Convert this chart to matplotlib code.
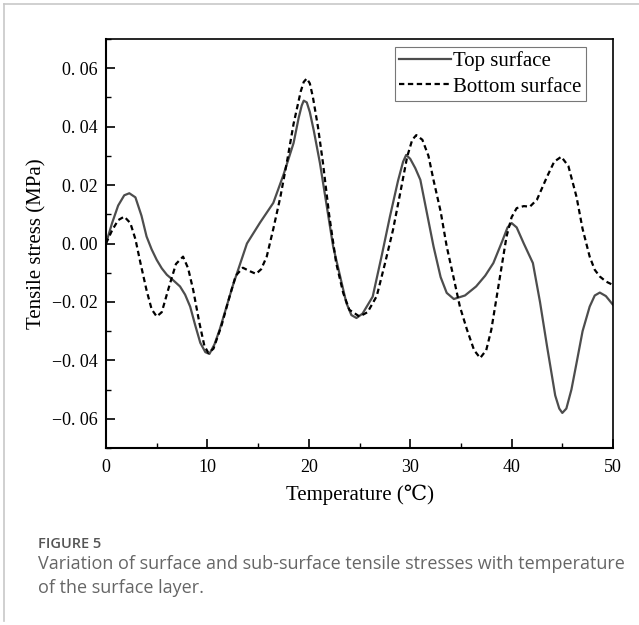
import matplotlib
matplotlib.use("Agg")
import matplotlib.pyplot as plt
from matplotlib.lines import Line2D
from matplotlib.ticker import MultipleLocator, FixedLocator

# ---- data ----
top_T = [0, 0.6, 1.2, 1.8, 2.3, 2.9, 3.5, 4.0, 4.5, 5.0, 5.5, 6.0, 6.7, 7.3, 7.8, 8.3, 8.8, 9.3,
         9.8, 10.2, 10.7, 11.2, 12.5, 13.9, 15.2, 16.5, 17.5, 18.5, 19.0, 19.3, 19.5, 19.8, 20.1,
         20.5, 21.1, 22.4, 23.7, 24.2, 24.7, 25.3, 26.3, 27.2, 28.0, 28.8, 29.3, 29.6, 30.0, 30.5,
         31.0, 32.3, 33.0, 33.6, 34.3, 35.4, 36.5, 37.4, 38.2, 39.1, 39.6, 40.0, 40.5, 41.2, 42.1,
         42.8, 43.5, 44.3, 44.7, 45.0, 45.4, 45.9, 46.4, 47.0, 47.7, 48.2, 48.7, 49.3, 50]
top_S = [0.0, 0.007, 0.013, 0.0165, 0.0172, 0.0158, 0.0095, 0.0024, -0.0020, -0.0056, -0.0085,
         -0.0107, -0.0128, -0.0147, -0.0175, -0.0216, -0.028, -0.034, -0.0372, -0.0378, -0.0345,
         -0.0296, -0.0145, 0.0, 0.0072, 0.0139, 0.0235, 0.0344, 0.0430, 0.0472, 0.0489, 0.0483,
         0.0450, 0.0385, 0.0275, -0.001, -0.0203, -0.0245, -0.0255, -0.0240, -0.0182, -0.004,
         0.0092, 0.0215, 0.028, 0.0303, 0.0290, 0.0258, 0.0218, -0.001, -0.0115, -0.0169, -0.019,
         -0.0178, -0.0147, -0.0110, -0.0067, 0.001, 0.0055, 0.0070, 0.0055, 0.0, -0.0067, -0.020,
         -0.0353, -0.052, -0.0565, -0.058, -0.0565, -0.0500, -0.041, -0.030, -0.0216, -0.0178,
         -0.0168, -0.0180, -0.021]

bot_T = [0, 0.6, 1.2, 1.8, 2.4, 2.9, 3.4, 4.0, 4.5, 5.0, 5.5, 6.2, 6.9, 7.6, 8.1, 8.6, 9.2, 9.7,
         10.1, 10.6, 11.4, 12.2, 12.8, 13.5, 14.2, 14.8, 15.3, 15.85, 16.5, 17.2, 17.9, 18.5, 19.2,
         19.5, 19.8, 20.1, 20.4, 20.9, 21.4, 22.0, 22.7, 23.4, 24.0, 25.0, 25.8, 26.7, 27.5, 28.3,
         29.0, 29.7, 30.2, 30.6, 31.2, 31.8, 32.3, 33.0, 33.6, 34.3, 34.9, 35.6, 36.3, 36.9, 37.5,
         38.0, 38.8, 39.5, 40.0, 40.5, 41.2, 41.8, 42.5, 43.5, 44.2, 44.9, 45.6, 46.4, 47.0, 47.7,
         48.2, 48.7, 49.3, 50]
bot_S = [0.0, 0.0045, 0.0080, 0.0092, 0.0070, 0.0015, -0.0067, -0.0160, -0.0225, -0.0250,
         -0.0235, -0.0150, -0.0070, -0.0045, -0.0085, -0.0159, -0.0270, -0.0350, -0.0375, -0.0360,
         -0.0280, -0.0180, -0.0110, -0.0083, -0.0095, -0.0104, -0.0088, -0.0045, 0.0050, 0.0160,
         0.0290, 0.0410, 0.0520, 0.0553, 0.0565, 0.0548, 0.0502, 0.040, 0.0275, 0.0100, -0.0067,
         -0.0170, -0.0227, -0.0250, -0.0235, -0.0180, -0.0070, 0.0046, 0.0170, 0.0297, 0.0355,
         0.0371, 0.0355, 0.0300, 0.0217, 0.0110, -0.001, -0.0120, -0.0216, -0.0295, -0.0365,
         -0.0392, -0.0365, -0.0295, -0.0125, 0.0024, 0.0090, 0.0121, 0.0128, 0.0126, 0.0150,
         0.0229, 0.0280, 0.0297, 0.0265, 0.0160, 0.0050, -0.0045, -0.0090, -0.0113, -0.0130,
         -0.0142]

x_ticks = [0, 10, 20, 30, 40, 50]
y_ticks = [-0.06, -0.04, -0.02, 0.00, 0.02, 0.04, 0.06]
y_tick_labels = ["\u22120. 06", "\u22120. 04", "\u22120. 02", "0. 00", "0. 02", "0. 04", "0. 06"]
series_names = ["Top surface", "Bottom surface"]
x_label = "Temperature (\u2103)"
y_label = "Tensile stress (MPa)"
caption_head = "FIGURE 5"
caption_lines = ["Variation of surface and sub-surface tensile stresses with temperature",
                 "of the surface layer."]

serif = ["Liberation Serif", "DejaVu Serif"]

fig = plt.figure(figsize=(6.39, 6.25), dpi=100)
fig.patch.set_facecolor("white")

# outer page frame lines
fig.add_artist(Line2D([4/639, 4/639], [1-4/625, 1-621/625], color="#c8c8c8", lw=1.2,
                      transform=fig.transFigure))
fig.add_artist(Line2D([4/639, 1.0], [1-4/625, 1-4/625], color="#c8c8c8", lw=1.2,
                      transform=fig.transFigure))

ax = fig.add_axes([106/639, 1-448/625, (613-106)/639, (448-39)/625])
ax.plot(top_T, top_S, color="#4d4d4d", lw=1.6, solid_joinstyle="round")
ax.plot(bot_T, bot_S, color="black", lw=1.6, dashes=(2.4, 1.6))

ax.set_xlim(0, 50)
ax.set_ylim(-0.07, 0.07)
ax.xaxis.set_major_locator(FixedLocator(x_ticks))
ax.xaxis.set_minor_locator(MultipleLocator(5))
ax.yaxis.set_major_locator(FixedLocator(y_ticks))
ax.yaxis.set_minor_locator(MultipleLocator(0.01))
ax.set_yticklabels(y_tick_labels)
ax.set_xticklabels([str(t) for t in x_ticks])
ax.tick_params(which="both", direction="in", top=False, right=False, colors="black")
ax.tick_params(which="major", length=6.5, width=1.2, labelsize=13, pad=6)
ax.tick_params(which="minor", length=3.6, width=1.0)
ax.tick_params(axis="x", which="major", pad=8)
for lab in ax.get_xticklabels() + ax.get_yticklabels():
    lab.set_family(serif)
for s in ["left", "bottom"]:
    ax.spines[s].set_linewidth(1.5)
for s in ["top", "right"]:
    ax.spines[s].set_linewidth(1.2)

ax.set_xlabel(x_label, family=serif, fontsize=15, labelpad=6)
ax.set_ylabel(y_label, family=serif, fontsize=15, labelpad=4)

handles = [Line2D([], [], color="#4d4d4d", lw=1.6),
           Line2D([], [], color="black", lw=1.6, dashes=(2.4, 1.6))]
leg = ax.legend(handles, series_names, loc="upper right", bbox_to_anchor=(0.946, 0.98),
                prop={"family": serif, "size": 15}, frameon=True, fancybox=False,
                edgecolor="#777777", framealpha=1, borderpad=0.2, labelspacing=0.28,
                handlelength=2.5, handletextpad=0.1, borderaxespad=0)
leg.get_frame().set_linewidth(0.8)

fig.text(38/639, 1-544/625, caption_head, family="Open Sans", fontsize=10.5,
         color="#555555", weight="semibold", va="center", ha="left")
fig.text(38/639, 1-564/625, caption_lines[0], family="Open Sans", fontsize=13,
         color="#666666", va="center", ha="left")
fig.text(38/639, 1-588/625, caption_lines[1], family="Open Sans", fontsize=13,
         color="#666666", va="center", ha="left")

fig.savefig("out.png", dpi=100, facecolor="white")
